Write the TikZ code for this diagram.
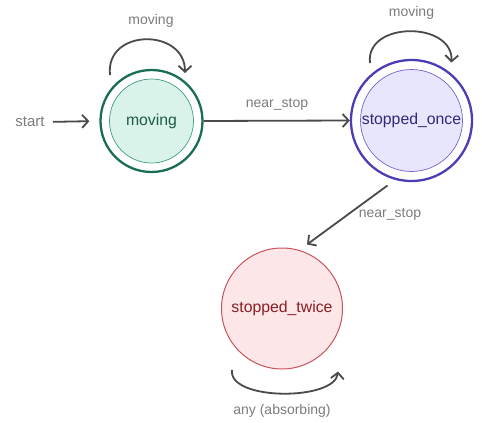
\documentclass[tikz,border=0pt]{standalone}
\usepackage{fontspec}
\setmainfont{Liberation Sans}
\usetikzlibrary{arrows.meta,calc}
\definecolor{gOut}{HTML}{1B6E56}
\definecolor{gIn}{HTML}{3E9C7E}
\definecolor{gFill}{HTML}{D9F2EA}
\definecolor{gTxt}{HTML}{1E5B4A}
\definecolor{bOut}{HTML}{4B3DB5}
\definecolor{bIn}{HTML}{6F64D2}
\definecolor{bFill}{HTML}{E8E6FC}
\definecolor{bTxt}{HTML}{2F2A7A}
\definecolor{rOut}{HTML}{C8545C}
\definecolor{rFill}{HTML}{FCE6E7}
\definecolor{rTxt}{HTML}{8B1E24}
\definecolor{edgeC}{HTML}{4A4A4A}
\definecolor{labC}{HTML}{7C7C7C}
\tikzset{
  outerring/.style={circle, draw, line width=2.3pt, inner sep=0pt},
  innerdisc/.style={circle, draw, line width=0.7pt, inner sep=0pt, font=\fontsize{15.8}{18}\selectfont},
  edge/.style={draw=edgeC, line width=1.8pt, -{Straight Barb[length=6pt,width=13pt,line width=1.8pt]}},
  elabel/.style={text=labC, font=\fontsize{14}{16}\selectfont, inner sep=0pt}
}
\begin{document}
\begin{tikzpicture}[x=1pt,y=-1pt]
\useasboundingbox[fill=white] (0,0) rectangle (482,423);
% states
\node[outerring, draw=gOut, minimum size=102pt] (mo) at (151.5,121) {};
\node[innerdisc, draw=gIn, fill=gFill, text=gTxt, minimum size=84pt] (mi) at (151.5,121) {moving};
\node[outerring, draw=bOut, minimum size=121pt] (so) at (411.5,120.5) {};
\node[innerdisc, draw=bIn, fill=bFill, text=bTxt, minimum size=102pt] (si) at (411.5,120.5) {stopped\_once};
\node[innerdisc, draw=rOut, line width=1pt, fill=rFill, text=rTxt, minimum size=121pt] (st) at (282,308.5) {stopped\_twice};
% start
\node[elabel, font=\fontsize{15}{17}\selectfont] (start) at (30,122) {start};
\draw[edge, shorten <=8pt, shorten >=10pt] (start.east) -- (mo.west);
% moving -> stopped_once
\draw[edge] (mo.east) -- (so.west);
\node[elabel] (l1) at (277,104) {near\_stop};
% self loop moving
\coordinate (m1) at ($(mo.center)+(-41.5,-46)$);
\coordinate (m2) at ($(mo.center)+(33.5,-48)$);
\draw[edge] (m1) .. controls (105,28) and (185,28) .. (m2);
\node[elabel] (l2) at (151,21) {moving};
% self loop stopped_once
\coordinate (s1) at ($(so.center)+(-41.5,-57.5)$);
\coordinate (s2) at ($(so.center)+(40,-58)$);
\draw[edge] (s1) .. controls (365,21) and (453,21) .. (s2);
\node[elabel] (l3) at (411.5,13) {moving};
% stopped_once -> stopped_twice
\coordinate (d1) at ($(so.center)+(-24,65)$);
\coordinate (d2) at ($(st.center)+(25,-64)$);
\draw[edge] (d1) -- (d2);
\node[elabel] (l4) at (390,214) {near\_stop};
% absorbing loop
\coordinate (a1) at ($(st.center)+(-50,61.5)$);
\coordinate (a2) at ($(st.center)+(56,63)$);
\draw[edge] (a1) .. controls (228,401) and (335,401) .. (a2);
\node[elabel] (l5) at (282,411) {any (absorbing)};
\end{tikzpicture}
\end{document}
